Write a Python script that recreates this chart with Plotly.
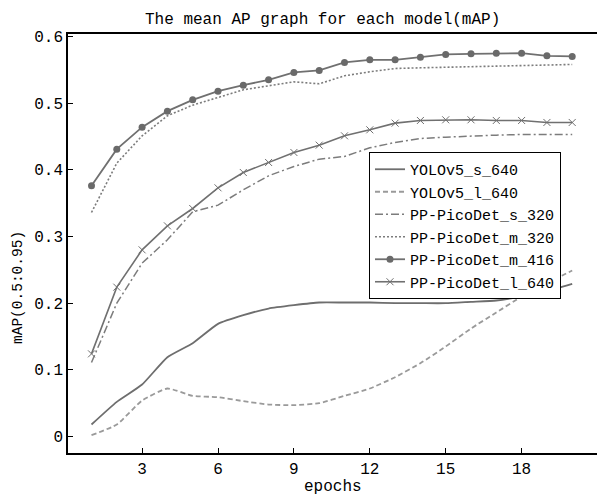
import plotly.graph_objects as go

epochs = list(range(1, 21))

yolov5_s_640 = [0.018, 0.052, 0.078, 0.119, 0.140, 0.169, 0.182, 0.192, 0.197, 0.201,
                0.201, 0.201, 0.200, 0.200, 0.200, 0.202, 0.204, 0.210, 0.218, 0.229]
yolov5_l_640 = [0.002, 0.018, 0.054, 0.072, 0.061, 0.059, 0.053, 0.048, 0.047, 0.050,
                0.061, 0.072, 0.089, 0.110, 0.135, 0.162, 0.186, 0.210, 0.230, 0.249]
picodet_s_320 = [0.111, 0.200, 0.260, 0.295, 0.337, 0.347, 0.370, 0.391, 0.405, 0.416,
                 0.420, 0.433, 0.441, 0.447, 0.449, 0.451, 0.452, 0.453, 0.453, 0.453]
picodet_m_320 = [0.336, 0.410, 0.451, 0.481, 0.497, 0.508, 0.520, 0.526, 0.532, 0.529,
                 0.541, 0.547, 0.552, 0.553, 0.554, 0.554, 0.555, 0.556, 0.557, 0.558]
picodet_m_416 = [0.376, 0.431, 0.464, 0.488, 0.505, 0.518, 0.527, 0.535, 0.546, 0.549,
                 0.561, 0.565, 0.565, 0.569, 0.573, 0.574, 0.575, 0.575, 0.571, 0.570]
picodet_l_640 = [0.124, 0.224, 0.280, 0.316, 0.342, 0.373, 0.396, 0.411, 0.426, 0.437,
                 0.451, 0.460, 0.470, 0.474, 0.475, 0.475, 0.474, 0.474, 0.471, 0.471]

x_ticks = [3, 6, 9, 12, 15, 18]
y_ticks = [0, 0.1, 0.2, 0.3, 0.4, 0.5, 0.6]
y_tick_labels = ["0", "0.1", "0.2", "0.3", "0.4", "0.5", "0.6"]

FONT = "Liberation Mono"

fig = go.Figure()
fig.add_trace(go.Scatter(x=epochs, y=yolov5_s_640, name="YOLOv5_s_640", mode="lines",
                         line=dict(color="#6e6e6e", width=1.8, shape="spline", smoothing=0.5)))
fig.add_trace(go.Scatter(x=epochs, y=yolov5_l_640, name="YOLOv5_l_640", mode="lines",
                         line=dict(color="#9a9a9a", width=1.8, dash="5px,3px", shape="spline", smoothing=0.5)))
fig.add_trace(go.Scatter(x=epochs, y=picodet_s_320, name="PP-PicoDet_s_320", mode="lines",
                         line=dict(color="#7c7c7c", width=1.5, dash="8px,3px,2px,3px")))
fig.add_trace(go.Scatter(x=epochs, y=picodet_m_320, name="PP-PicoDet_m_320", mode="lines",
                         line=dict(color="#7c7c7c", width=1.6, dash="2px,2px")))
fig.add_trace(go.Scatter(x=epochs, y=picodet_m_416, name="PP-PicoDet_m_416", mode="lines+markers",
                         line=dict(color="#707070", width=1.8),
                         marker=dict(symbol="circle", size=7, color="#6a6a6a")))
fig.add_trace(go.Scatter(x=epochs, y=picodet_l_640, name="PP-PicoDet_l_640", mode="lines+markers",
                         line=dict(color="#707070", width=1.6),
                         marker=dict(symbol="x-thin", size=7, color="#707070",
                                     line=dict(color="#707070", width=1))))

fig.update_layout(
    template="none",
    width=597, height=497,
    margin=dict(l=68, r=0, t=34, b=44, autoexpand=False),
    paper_bgcolor="white", plot_bgcolor="white",
    font=dict(family=FONT, size=16, color="black"),
    xaxis=dict(range=[0.071, 20.98], tickvals=x_ticks, ticks="inside", ticklen=5,
               tickcolor="black", tickwidth=1, showline=True, linecolor="black", linewidth=1.5,
               mirror=True, showgrid=False, zeroline=False, automargin=False,
               tickfont=dict(family=FONT, size=16), ticklabelstandoff=0),
    yaxis=dict(range=[-0.0247, 0.6037], tickvals=y_ticks, ticktext=y_tick_labels,
               ticks="inside", ticklen=5, tickcolor="black", tickwidth=1, showline=True,
               linecolor="black", linewidth=1.5, showgrid=False, zeroline=False,
               automargin=False, tickfont=dict(family=FONT, size=16)),
    legend=dict(x=(369 - 68) / 529, y=(453 - 152) / 419, xanchor="left", yanchor="top",
                bgcolor="white", bordercolor="black", borderwidth=1,
                font=dict(family=FONT, size=15), tracegroupgap=0),
    showlegend=True,
)
# title
fig.add_annotation(text="The mean AP graph for each model(mAP)", xref="paper", yref="paper",
                   x=(322 - 68) / 529, y=(453 - 20) / 419, xanchor="center", yanchor="middle",
                   showarrow=False, font=dict(family=FONT, size=16, color="black"))
# axis titles
fig.add_annotation(text="epochs", xref="paper", yref="paper",
                   x=(333 - 68) / 529, y=(453 - 487) / 419, xanchor="center", yanchor="middle",
                   showarrow=False, font=dict(family=FONT, size=16, color="black"))
fig.add_annotation(text="mAP(0.5:0.95)", textangle=-90, xref="paper", yref="paper",
                   x=(18 - 68) / 529, y=(453 - 288) / 419, xanchor="center", yanchor="middle",
                   showarrow=False, font=dict(family=FONT, size=14.5, color="black"))

fig.write_html("out.html", config={"displayModeBar": False},
               post_script="document.body.style.margin='0px';document.body.style.overflow='hidden';")
